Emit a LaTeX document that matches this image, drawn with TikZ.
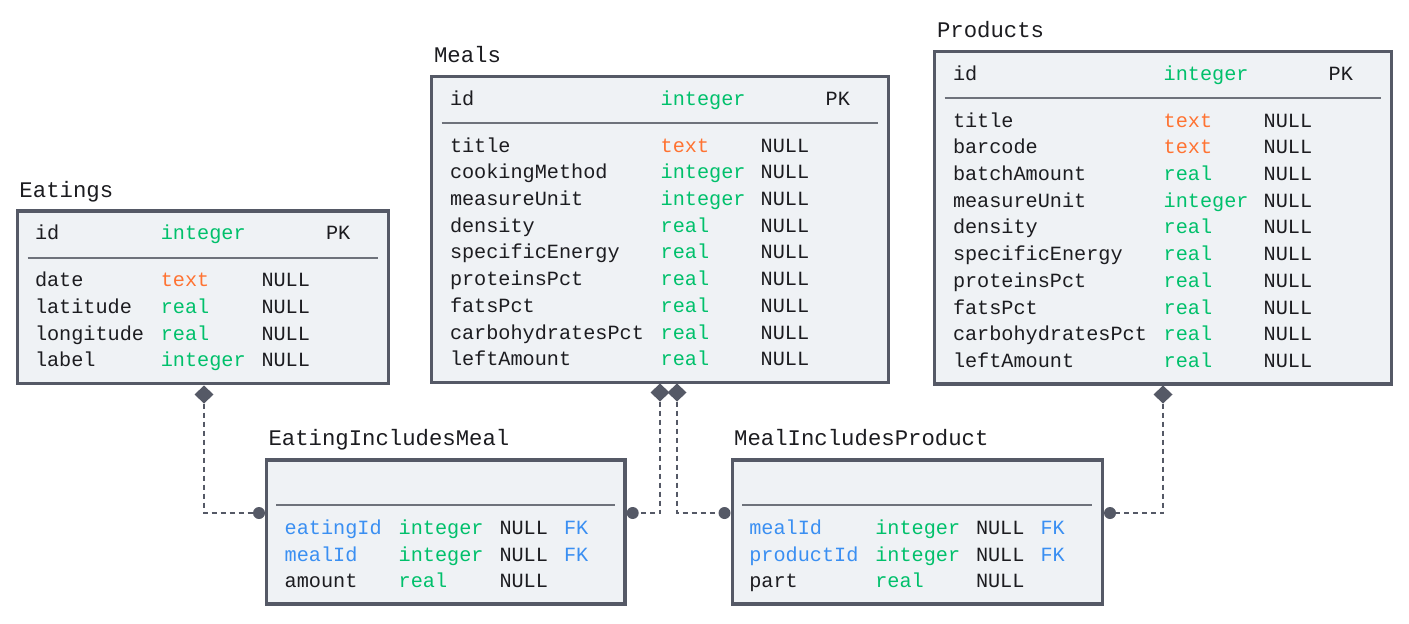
\documentclass[tikz,border=0pt]{standalone}
\usepackage{fontspec}
\newfontfamily\ermono{Liberation Mono}
\usetikzlibrary{shapes.geometric}
\definecolor{ink}{HTML}{1C1C20}
\definecolor{edge}{HTML}{555966}
\definecolor{paper}{HTML}{EFF2F5}
\definecolor{sepline}{HTML}{6E727B}
\definecolor{tgreen}{HTML}{00C06B}
\definecolor{torange}{HTML}{FF7332}
\definecolor{tblue}{HTML}{3A8FF2}
\tikzset{
 cell/.style={anchor=base west, inner sep=0pt, outer sep=0pt, font=\ermono\fontsize{20.2}{24}\selectfont, text=ink},
 ttl/.style={cell, font=\ermono\fontsize{22.3}{26}\selectfont},
 tbox/.style={draw=edge, fill=paper, line width=3.5pt, rectangle, inner sep=0pt, outer sep=0pt, anchor=north west},
 sepl/.style={draw=sepline, line width=2pt},
 dmd/.style={diamond, fill=edge, draw=none, inner sep=0pt, outer sep=0pt, minimum width=19pt, minimum height=18pt},
 dotc/.style={circle, fill=edge, draw=none, inner sep=0pt, outer sep=0pt, minimum size=12pt},
 conn/.style={draw=edge, line width=2pt, dash pattern=on 5pt off 4pt},
}
\newcommand\pkrow[2]{%
 \node[cell] (#1n) at (\colA,#2) {id};
 \node[cell,text=tgreen] (#1t) at (\colB,#2) {integer};
 \node[cell] (#1k) at (\colD,#2) {PK};}
\newcommand\fldrow[6]{%
 \node[cell,text=#4] (#1n) at (\colA,#2) {#3};
 \node[cell,text=#6] (#1t) at (\colB,#2) {#5};
 \node[cell] (#1u) at (\colC,#2) {NULL};}
\newcommand\fkrow[4]{%
 \fldrow{#1}{#2}{#3}{tblue}{#4}{tgreen}
 \node[cell,text=tblue] (#1k) at (\colD,#2) {FK};}
\begin{document}
\begin{tikzpicture}[x=1pt,y=-1pt]
\useasboundingbox[fill=white] (0,0) rectangle (1409,624);
% boxes
\node[tbox, minimum width=370.8pt, minimum height=172.3pt] (eat) at (17.5,211) {};
\node[tbox, minimum width=456.6pt, minimum height=305.8pt] (meal) at (431.7,76.5) {};
\node[tbox, minimum width=456.6pt, minimum height=332.5pt] (prod) at (934.7,51.5) {};
\node[tbox, minimum width=358.7pt, minimum height=144pt] (eim) at (266.3,460) {};
\node[tbox, minimum width=370.2pt, minimum height=144pt] (mip) at (732.3,460) {};
% separators
\draw[sepl] (27.5,257.5) -- (378.3,257.5);
\draw[sepl] (441.7,122.5) -- (878.3,122.5);
\draw[sepl] (944.7,97.5) -- (1381.3,97.5);
\draw[sepl] (276.3,504.7) -- (615,504.7);
\draw[sepl] (742.3,504.7) -- (1092.2,504.7);
% titles
\node[ttl] (eatT) at (19.5,197) {Eatings};
\node[ttl] (mealT) at (434,62) {Meals};
\node[ttl] (prodT) at (937,37) {Products};
\node[ttl] (eimT) at (268.5,445.7) {EatingIncludesMeal};
\node[ttl] (mipT) at (734.2,445.7) {MealIncludesProduct};
% Eatings
\def\colA{35}\def\colB{160.8}\def\colC{261.5}\def\colD{326}
\pkrow{eA}{239.3}
\fldrow{eB}{286.6}{date}{ink}{text}{torange}
\fldrow{eC}{313.3}{latitude}{ink}{real}{tgreen}
\fldrow{eD}{340}{longitude}{ink}{real}{tgreen}
\fldrow{eE}{366.7}{label}{ink}{integer}{tgreen}
% Meals
\def\colA{450}\def\colB{660.7}\def\colC{760.7}\def\colD{825.7}
\pkrow{mA}{105}
\fldrow{mB}{152.1}{title}{ink}{text}{torange}
\fldrow{mC}{178.8}{cookingMethod}{ink}{integer}{tgreen}
\fldrow{mD}{205.5}{measureUnit}{ink}{integer}{tgreen}
\fldrow{mE}{232.2}{density}{ink}{real}{tgreen}
\fldrow{mF}{258.9}{specificEnergy}{ink}{real}{tgreen}
\fldrow{mG}{285.6}{proteinsPct}{ink}{real}{tgreen}
\fldrow{mH}{312.3}{fatsPct}{ink}{real}{tgreen}
\fldrow{mI}{339}{carbohydratesPct}{ink}{real}{tgreen}
\fldrow{mJ}{365.7}{leftAmount}{ink}{real}{tgreen}
% Products
\def\colA{953}\def\colB{1163.7}\def\colC{1263.7}\def\colD{1328.7}
\pkrow{pA}{80}
\fldrow{pB}{127.1}{title}{ink}{text}{torange}
\fldrow{pC}{153.8}{barcode}{ink}{text}{torange}
\fldrow{pD}{180.5}{batchAmount}{ink}{real}{tgreen}
\fldrow{pE}{207.2}{measureUnit}{ink}{integer}{tgreen}
\fldrow{pF}{233.9}{density}{ink}{real}{tgreen}
\fldrow{pG}{260.6}{specificEnergy}{ink}{real}{tgreen}
\fldrow{pH}{287.3}{proteinsPct}{ink}{real}{tgreen}
\fldrow{pI}{314}{fatsPct}{ink}{real}{tgreen}
\fldrow{pJ}{340.7}{carbohydratesPct}{ink}{real}{tgreen}
\fldrow{pK}{367.4}{leftAmount}{ink}{real}{tgreen}
% EatingIncludesMeal
\def\colA{284.7}\def\colB{398.7}\def\colC{499.5}\def\colD{564}
\fkrow{aA}{534.3}{eatingId}{integer}
\fkrow{aB}{561}{mealId}{integer}
\fldrow{aC}{587.7}{amount}{ink}{real}{tgreen}
% MealIncludesProduct
\def\colA{749.3}\def\colB{875.3}\def\colC{976}\def\colD{1040.5}
\fkrow{bA}{534.3}{mealId}{integer}
\fkrow{bB}{561}{productId}{integer}
\fldrow{bC}{587.7}{part}{ink}{real}{tgreen}
% relation ends
\node[dmd] (d1) at (204,394.5) {};
\node[dmd] (d2) at (660,392.5) {};
\node[dmd] (d3) at (677,392.5) {};
\node[dmd] (d4) at (1163,394.5) {};
\node[dotc] (c1) at (259,513) {};
\node[dotc] (c2) at (632.7,513) {};
\node[dotc] (c3) at (724.5,513) {};
\node[dotc] (c4) at (1110,513) {};
\draw[conn] (d1) |- (c1);
\draw[conn] (d2) |- (c2);
\draw[conn] (d3) |- (c3);
\draw[conn] (d4) |- (c4);
\end{tikzpicture}
\end{document}
